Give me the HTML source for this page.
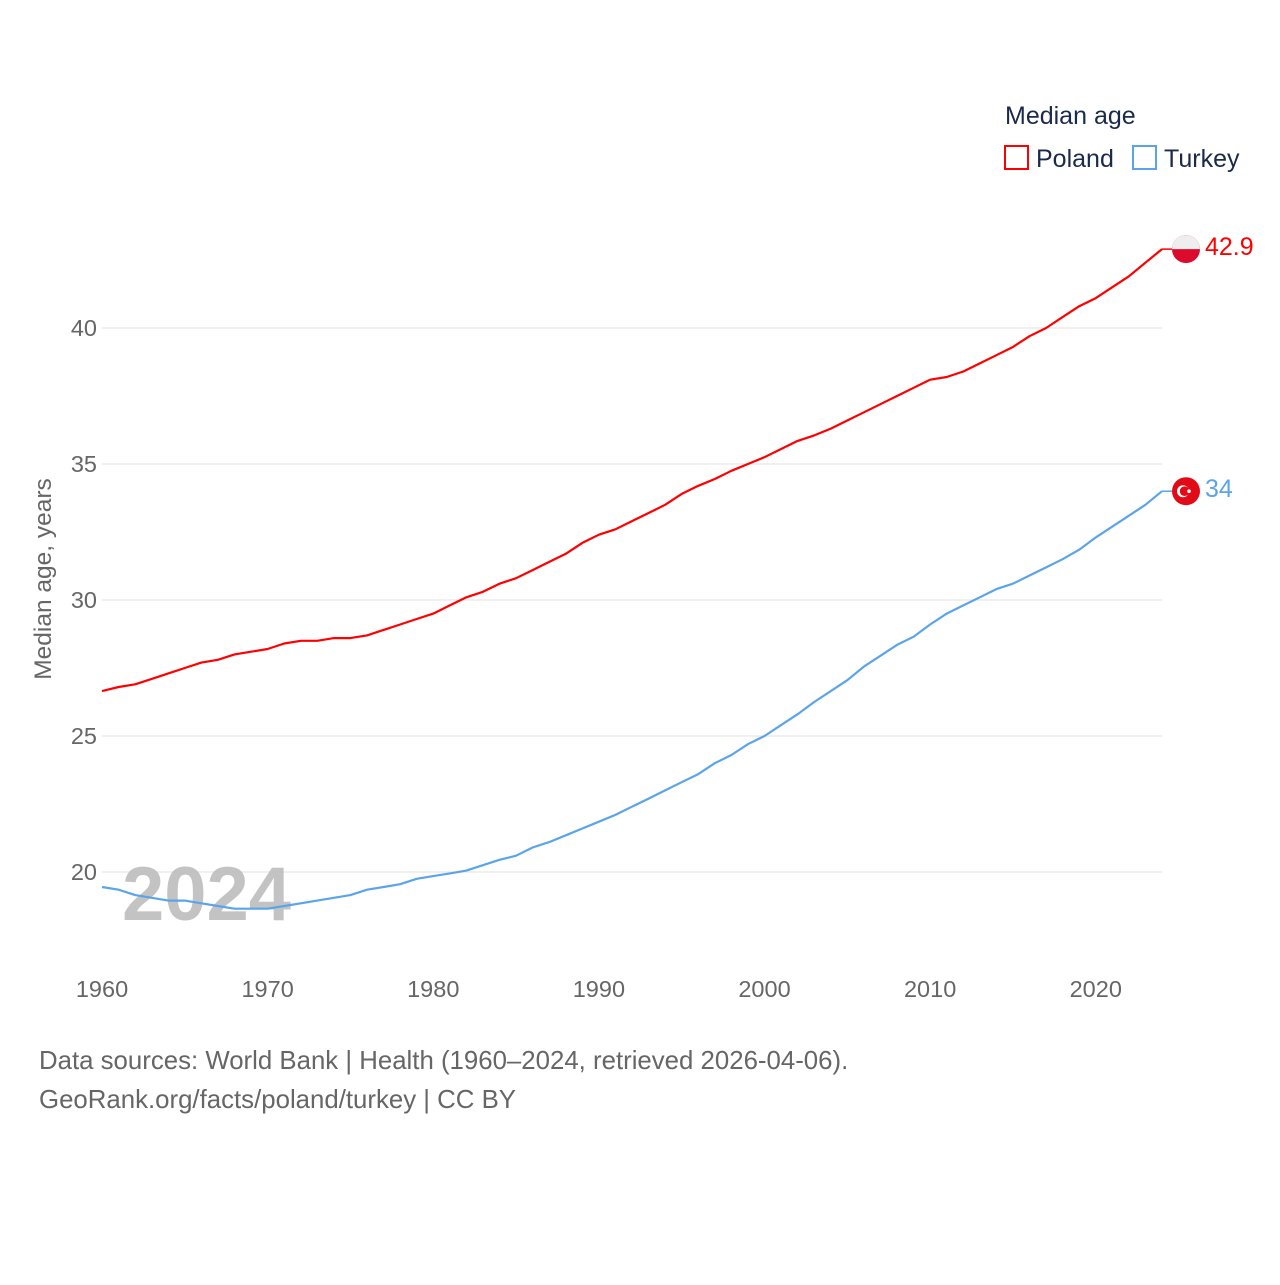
<!DOCTYPE html>
<html><head><meta charset="utf-8"><style>
body{margin:0;background:#fff;}
svg text{font-family:"Liberation Sans",sans-serif;}
</style></head><body>
<svg id="chart" width="1280" height="1280" xmlns="http://www.w3.org/2000/svg">
<rect width="1280" height="1280" fill="#fff"/>
<g id="grid"></g>
<g id="yticks"></g>
<g id="xticks"></g>
<text x="122" y="920" font-size="76" font-weight="bold" fill="#bdbdbd" fill-opacity="0.9">2024</text>
<g id="series"></g>
<text transform="translate(51,579) rotate(-90)" text-anchor="middle" font-size="24.5" fill="#666">Median age, years</text>
<text x="1005" y="124" font-size="25" fill="#1b2a4a">Median age</text>
<g>
<rect x="1005" y="146" width="23" height="23" fill="none" stroke="#ff0000" stroke-width="2"/>
<text x="1036" y="167" font-size="25" fill="#1b2a4a">Poland</text></g>
<g>
<rect x="1133" y="146" width="23" height="23" fill="none" stroke="#5ba4ea" stroke-width="2"/>
<text x="1164" y="167" font-size="25" fill="#1b2a4a">Turkey</text></g>
<text x="39" y="1069" font-size="25.8" fill="#666">Data sources: World Bank | Health (1960–2024, retrieved 2026-04-06).</text>
<text x="39" y="1108" font-size="25.8" fill="#666">GeoRank.org/facts/poland/turkey | CC BY</text>
</svg>
<script>
const years=[];for(let y=1960;y<=2024;y++)years.push(y);
const poland=[26.65,26.8,26.9,27.1,27.3,27.5,27.7,27.8,28.0,28.1,28.2,28.4,28.5,28.5,28.6,28.6,28.7,28.9,29.1,29.3,29.5,29.8,30.1,30.3,30.6,30.8,31.1,31.4,31.7,32.1,32.4,32.6,32.9,33.2,33.5,33.9,34.2,34.45,34.75,35.0,35.25,35.55,35.85,36.05,36.3,36.6,36.9,37.2,37.5,37.8,38.1,38.2,38.4,38.7,39.0,39.3,39.7,40.0,40.4,40.8,41.1,41.5,41.9,42.4,42.9];
const turkey=[19.45,19.35,19.15,19.05,18.95,18.95,18.85,18.75,18.65,18.65,18.65,18.75,18.85,18.95,19.05,19.15,19.35,19.45,19.55,19.75,19.85,19.95,20.05,20.25,20.45,20.6,20.9,21.1,21.35,21.6,21.85,22.1,22.4,22.7,23.0,23.3,23.6,24.0,24.3,24.7,25.0,25.4,25.8,26.25,26.65,27.05,27.55,27.95,28.35,28.65,29.1,29.5,29.8,30.1,30.4,30.6,30.9,31.2,31.5,31.85,32.3,32.7,33.1,33.5,34.0];
const yTicks=[20,25,30,35,40];
const xTicks=[1960,1970,1980,1990,2000,2010,2020];
const polandLabel="42.9", turkeyLabel="34";
const NS="http://www.w3.org/2000/svg";
const X=y=>102+(y-1960)*(1162-102)/64;
const Y=v=>872-(v-20)*27.2;
function mk(tag,attrs,parent){const e=document.createElementNS(NS,tag);for(const k in attrs)e.setAttribute(k,attrs[k]);parent.appendChild(e);return e;}
const grid=document.getElementById('grid'),yt=document.getElementById('yticks'),xt=document.getElementById('xticks'),ser=document.getElementById('series');
yTicks.forEach(v=>{
 const l=mk('line',{x1:102,x2:1162,y1:Y(v),y2:Y(v),stroke:'#ebebeb','stroke-width':1.5},grid);
 
 
 const t=mk('text',{x:97,y:Y(v)+8,'text-anchor':'end','font-size':23.5,fill:'#666'},yt);t.textContent=v;
 
 
});
xTicks.forEach(v=>{
 const t=mk('text',{x:X(v),y:997,'text-anchor':'middle','font-size':23.5,fill:'#666'},xt);t.textContent=v;
 
 
});
function line(data,color,name,label,flag){
 const pts=data.map((v,i)=>X(years[i]).toFixed(1)+','+Y(v).toFixed(1)).join(' ');
 const p=mk('polyline',{points:pts,fill:'none',stroke:color,'stroke-width':2.2,'stroke-linejoin':'round'},ser);
 
 
 const last=data[data.length-1],ly=Y(last),lx=X(years[years.length-1]);
 const s=mk('line',{x1:lx,x2:lx+10,y1:ly,y2:ly,stroke:color,'stroke-width':1.5},ser);
 
 
 const g=mk('g',{},ser);
 
 
 if(flag==='pl'){
  mk('circle',{cx:1186,cy:ly,r:14,fill:'#dc0a2d'},g);
  mk('path',{d:`M1172,${ly} A14,14 0 0 1 1200,${ly} Z`,fill:'#eeeeee'},g);
 }else{
  mk('circle',{cx:1186,cy:ly,r:14,fill:'#e30a17'},g);
  mk('circle',{cx:1183,cy:ly,r:6,fill:'#fff'},g);
  mk('circle',{cx:1184.6,cy:ly,r:4.8,fill:'#e30a17'},g);
  mk('circle',{cx:1189,cy:ly,r:1.8,fill:'#fff'},g);
 }
 const t=mk('text',{x:1205,y:ly+6,'font-size':25,fill:color},ser);t.textContent=label;
 
 
}
line(poland,'#ff0000','poland',polandLabel,'pl');
line(turkey,'#5ba4ea','turkey',turkeyLabel,'tr');
</script>
</body></html>
